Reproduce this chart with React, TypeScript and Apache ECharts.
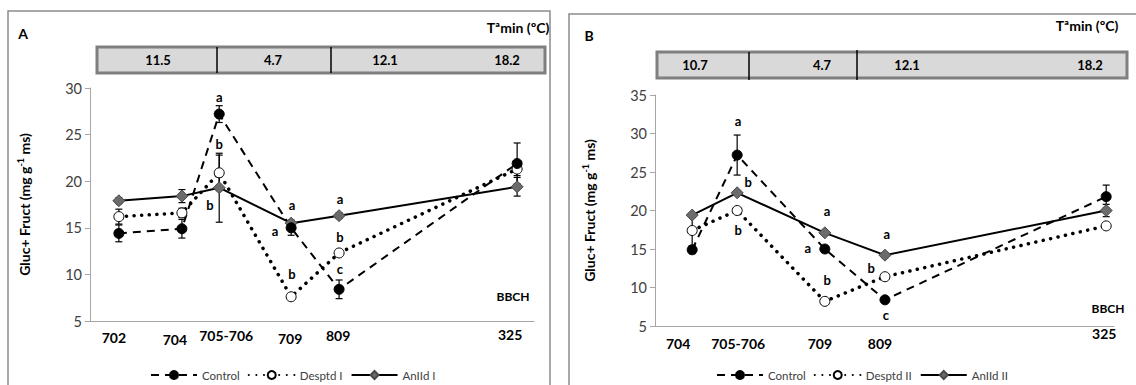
import React, { useEffect, useRef } from 'react';
import * as echarts from 'echarts';

// ---------- Panel A data ----------
const stagesA = ['702', '704', '705-706', '709', '809', '325'];
const stagePosA = [6.5, 20.7, 29.1, 45.3, 56.1, 96.2];
const controlA = [14.4, 14.9, 27.2, 15.0, 8.4, 21.9];
const controlErrA = [0.9, 1.0, 0.9, 0.8, 1.0, 2.2];
const desptdA = [16.2, 16.6, 20.9, 7.6, 12.3, 21.3];
const desptdErrA = [0.8, 0.5, 1.9, 0.3, 0.3, 0.7];
const anildA = [17.9, 18.4, 19.3, 15.5, 16.3, 19.4];
const anildErrA = [0.3, 0.7, 3.7, 0.3, 0.3, 1.0];
const tempA = ['11.5', '4.7', '12.1', '18.2'];
const lettersA: [number, number, string][] = [
  [29.1, 29.0, 'a'], [29.1, 24.0, 'b'], [27.0, 17.4, 'b'],
  [45.5, 17.4, 'a'], [41.7, 14.7, 'a'], [45.5, 10.0, 'b'],
  [56.3, 18.1, 'a'], [56.3, 14.0, 'b'], [56.3, 10.6, 'c'],
];

// ---------- Panel B data ----------
const stagesB = ['704', '705-706', '709', '809', '325'];
const stagePosB = [8.1, 17.9, 37.0, 50.1, 98.3];
const controlB = [14.9, 27.2, 15.0, 8.4, 21.8];
const controlErrB = [0.5, 2.6, 0.3, 0.3, 1.5];
const desptdB = [17.4, 20.0, 8.2, 11.4, 18.0];
const desptdErrB = [2.0, 0.3, 0.3, 0.3, 0.3];
const anildB = [19.4, 22.3, 17.1, 14.2, 20.0];
const anildErrB = [0.3, 0.3, 0.3, 0.3, 0.8];
const tempB = ['10.7', '4.7', '12.1', '18.2'];
const lettersB: [number, number, string][] = [
  [18.1, 31.6, 'a'], [20.3, 23.7, 'b'], [18.1, 17.5, 'b'],
  [37.5, 19.9, 'a'], [33.3, 15.1, 'a'], [37.5, 11.0, 'b'],
  [50.5, 17.0, 'a'], [47.1, 12.5, 'b'], [50.3, 6.4, 'c'],
];

const yTicksA = { min: 5, max: 30, interval: 5 };
const yTicksB = { min: 5, max: 35, interval: 5 };

// layout nudges for x labels (px)
const stageNudgeA = [[-5, 16], [-7, 18], [7, 14], [-1, 17], [-1, 14], [-7, 13]];
const stageNudgeB = [[-14, 17], [1, 17], [-5, 17], [-5, 17], [-2, 7]];

const FONT = 'Lato, "Open Sans", "DejaVu Sans", sans-serif';

function errSeries(pos: number[], vals: number[], errs: number[], idx: number) {
  return {
    type: 'custom',
    xAxisIndex: idx,
    yAxisIndex: idx,
    silent: true,
    z: 1,
    encode: { x: 0, y: 1 },
    data: pos.map((p, i) => [p, vals[i], errs[i]]),
    renderItem: (params: any, api: any) => {
      const x = api.value(0), y = api.value(1), e = api.value(2);
      const t = api.coord([x, y + e]);
      const b = api.coord([x, y - e]);
      const hw = 3.5;
      const st = { stroke: '#000', lineWidth: 1.2 };
      return {
        type: 'group',
        children: [
          { type: 'line', shape: { x1: t[0], y1: t[1], x2: b[0], y2: b[1] }, style: st },
          { type: 'line', shape: { x1: t[0] - hw, y1: t[1], x2: t[0] + hw, y2: t[1] }, style: st },
          { type: 'line', shape: { x1: b[0] - hw, y1: b[1], x2: b[0] + hw, y2: b[1] }, style: st },
        ],
      };
    },
  };
}

function lineSeries(name: string, pos: number[], vals: number[], idx: number, kind: number) {
  const base: any = {
    name,
    type: 'line',
    xAxisIndex: idx,
    yAxisIndex: idx,
    z: 3,
    data: pos.map((p, i) => [p, vals[i]]),
    showSymbol: true,
  };
  if (kind === 0) {
    base.symbol = 'circle';
    base.symbolSize = 10;
    base.itemStyle = { color: '#000', borderColor: '#000', borderWidth: 1 };
    base.lineStyle = { color: '#000', width: 2, type: [8, 6] };
  } else if (kind === 1) {
    base.symbol = 'circle';
    base.symbolSize = 10;
    base.itemStyle = { color: '#fff', borderColor: '#000', borderWidth: 1 };
    base.lineStyle = { color: '#000', width: 3.5, type: [0.1, 7.5], cap: 'round' };
  } else {
    base.symbol = 'diamond';
    base.symbolSize = 12;
    base.itemStyle = { color: '#6b6b6b', borderColor: '#4a4a4a', borderWidth: 1 };
    base.lineStyle = { color: '#000', width: 2 };
  }
  return base;
}

// text annotations placed through the axes (custom series)
function textSeries(items: any[][], idx: number, size: number) {
  return {
    type: 'custom',
    xAxisIndex: idx,
    yAxisIndex: idx,
    silent: true,
    z: 6,
    clip: false,
    encode: { x: 0, y: 1 },
    data: items,
    renderItem: (params: any, api: any) => {
      const item = items[params.dataIndex];
      const c = api.coord([api.value(0), api.value(1)]);
      const dx = item[3] || 0, dy = item[4] || 0;
      return {
        type: 'text',
        x: c[0] + dx,
        y: c[1] + dy,
        style: {
          text: String(item[2]),
          fontFamily: FONT,
          fontWeight: 'bold',
          fontSize: size,
          fill: '#000',
          align: 'center',
          verticalAlign: 'middle',
        },
      };
    },
  };
}

function yAxis(idx: number, t: { min: number; max: number; interval: number }) {
  return {
    type: 'value',
    gridIndex: idx,
    min: t.min,
    max: t.max,
    interval: t.interval,
    name: 'Gluc+ Fruct (mg g{sup|-1} ms)',
    nameLocation: 'middle',
    nameGap: 58,
    nameTextStyle: {
      fontFamily: FONT,
      fontWeight: 'bold',
      fontSize: 14,
      color: '#000',
      rich: {
        sup: { fontFamily: FONT, fontWeight: 'bold', fontSize: 9, color: '#000', verticalAlign: 'top', padding: [0, 0, 7, 0] },
      },
    },
    axisLine: { show: true, lineStyle: { color: '#a6a6a6', width: 1 } },
    axisTick: { show: true, length: 5, lineStyle: { color: '#a6a6a6' } },
    axisLabel: { fontFamily: FONT, fontSize: 14.5, color: '#404040', margin: 8 },
    splitLine: { show: false },
  };
}

function xAxis(idx: number) {
  return {
    type: 'value',
    gridIndex: idx,
    min: 0,
    max: 100,
    axisLine: { show: true, onZero: false, lineStyle: { color: '#a6a6a6', width: 1.2 } },
    axisTick: { show: false },
    axisLabel: { show: false },
    splitLine: { show: false },
  };
}

function tempBox(x: number, y: number, w: number, h: number, dividers: number[][], labels: string[], labelX: number[]) {
  const els: any[] = [
    { type: 'rect', shape: { x, y, width: w, height: h }, style: { fill: '#d9d9d9', stroke: '#7f7f7f', lineWidth: 3 } },
  ];
  dividers.forEach((d) => {
    els.push({ type: 'line', shape: { x1: d[0], y1: d[1], x2: d[0], y2: d[2] }, style: { stroke: '#000', lineWidth: 1.5 } });
  });
  labels.forEach((l, i) => {
    els.push({
      type: 'text',
      x: labelX[i],
      y: y + h / 2,
      style: { text: l, fontFamily: FONT, fontWeight: 'bold', fontSize: 13, fill: '#000', align: 'center', verticalAlign: 'middle' },
    });
  });
  return els;
}

function txt(x: number, y: number, text: string, size: number) {
  return {
    type: 'text',
    x,
    y,
    style: { text, fontFamily: FONT, fontWeight: 'bold', fontSize: size, fill: '#000', align: 'center', verticalAlign: 'middle' },
  };
}

const legendBase = {
  top: 364,
  itemWidth: 46,
  itemHeight: 10,
  itemGap: 8,
  textStyle: { fontFamily: FONT, fontSize: 11.5, color: '#404040' },
};

export default function App() {
  const ref = useRef<HTMLDivElement>(null);
  useEffect(() => {
    document.body.style.margin = '0';
    const chart = echarts.init(ref.current!, undefined, { renderer: 'svg' });
    const stageItemsA = stagesA.map((s, i) => [stagePosA[i], 5, s, stageNudgeA[i][0], stageNudgeA[i][1]]);
    const stageItemsB = stagesB.map((s, i) => [stagePosB[i], 5, s, stageNudgeB[i][0], stageNudgeB[i][1]]);
    const option: any = {
      animation: false,
      backgroundColor: '#fff',
      textStyle: { fontFamily: FONT },
      grid: [
        { left: 90, right: 1136 - 534, top: 88, bottom: 385 - 321 },
        { left: 655, right: 1136 - 1114, top: 95, bottom: 385 - 326 },
      ],
      xAxis: [xAxis(0), xAxis(1)],
      yAxis: [yAxis(0, yTicksA), yAxis(1, yTicksB)],
      legend: [
        { ...legendBase, data: ['Control', 'Desptd I', 'AnIId I'], left: 145 },
        { ...legendBase, data: ['Control', 'Desptd II', 'AnIId II'], left: 711 },
      ],
      graphic: [
        { type: 'rect', shape: { x: 8, y: 11, width: 542, height: 390 }, style: { fill: 'none', stroke: '#8c8c8c', lineWidth: 1.5 }, z: -1 },
        { type: 'rect', shape: { x: 569, y: 14, width: 590, height: 390 }, style: { fill: 'none', stroke: '#8c8c8c', lineWidth: 1.5 }, z: -1 },
        ...tempBox(97, 47, 448, 26, [[217, 47, 73], [331, 47, 73]], tempA, [158, 273, 385, 507]),
        ...tempBox(657, 52, 470, 26, [[749, 52, 80], [857, 50, 80]], tempB, [695, 822, 907, 1090]),
        txt(23, 33, 'A', 14),
        txt(589, 35, 'B', 14),
        txt(518, 27, 'Tªmin (ºC)', 14),
        txt(1087, 25, 'Tªmin (ºC)', 14),
        txt(513, 296, 'BBCH', 12),
        txt(1108, 308, 'BBCH', 12),
      ],
      series: [
        errSeries(stagePosA, controlA, controlErrA, 0),
        errSeries(stagePosA, desptdA, desptdErrA, 0),
        errSeries(stagePosA, anildA, anildErrA, 0),
        lineSeries('AnIId I', stagePosA, anildA, 0, 2),
        lineSeries('Desptd I', stagePosA, desptdA, 0, 1),
        lineSeries('Control', stagePosA, controlA, 0, 0),
        textSeries(lettersA, 0, 13),
        textSeries(stageItemsA, 0, 14),
        errSeries(stagePosB, controlB, controlErrB, 1),
        errSeries(stagePosB, desptdB, desptdErrB, 1),
        errSeries(stagePosB, anildB, anildErrB, 1),
        lineSeries('AnIId II', stagePosB, anildB, 1, 2),
        lineSeries('Desptd II', stagePosB, desptdB, 1, 1),
        lineSeries('Control', stagePosB, controlB, 1, 0),
        textSeries(lettersB, 1, 13),
        textSeries(stageItemsB, 1, 14),
      ],
    };
    chart.setOption(option);
    return () => chart.dispose();
  }, []);
  return <div ref={ref} style={{ width: 1136, height: 385 }} />;
}
